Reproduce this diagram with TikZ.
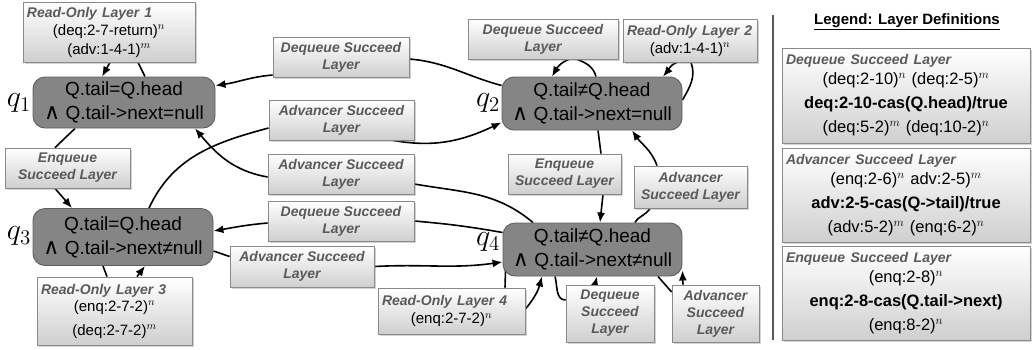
\documentclass[tikz,border=0pt]{standalone}
\usepackage{fontspec}
\setmainfont{Liberation Sans}
\newfontfamily\djv{DejaVu Sans}
\usetikzlibrary{shadows,backgrounds,arrows.meta}
\definecolor{ttl}{HTML}{5A5A5A}
\definecolor{stfill}{HTML}{858585}
\definecolor{stdraw}{HTML}{5E5E5E}
\definecolor{bxdraw}{HTML}{8A8A8A}
\definecolor{bxbot}{HTML}{CFCFCF}
\newcommand\lttl[1]{\makebox[\hsize][l]{\fontsize{14}{17}\selectfont\bfseries\itshape\color{ttl}#1}}
\newcommand\wedgeg{{\djv\fontsize{22}{24}\selectfont ∧}}
\tikzset{
  state/.style={draw=stdraw, fill=stfill, line width=0.9pt, rounded corners=12pt,
    align=center, inner sep=0pt, font=\fontsize{19}{24}\selectfont},
  layer/.style={draw=bxdraw, line width=0.8pt, top color=white, bottom color=bxbot,
    drop shadow={shadow xshift=1.5pt, shadow yshift=-1.5pt, opacity=0.35},
    inner sep=0pt, align=center},
  lname/.style={layer, font=\fontsize{14}{17}\selectfont\bfseries\itshape, text=ttl},
  rolayer/.style={layer, inner xsep=4pt, font=\fontsize{15}{19}\selectfont},
  legbox/.style={layer, inner xsep=4pt, text width=240pt, minimum height=94pt,
    font=\fontsize{16.5}{24}\selectfont},
  edge/.style={line width=1.6pt, black},
  arr/.style={edge, -{Latex[length=10pt,width=8pt]}},
  qlab/.style={font=\fontsize{20.74}{21}\selectfont, inner sep=0pt, scale=1.45},
}
\begin{document}
\begin{tikzpicture}[x=1pt,y=1pt]
\useasboundingbox (0,0) rectangle (1036,-349);

% states
\node[state, minimum width=182pt, minimum height=51pt] (q1) at (124,-102.5) {Q.tail=Q.head\\\wedgeg{} Q.tail->next=null};
\node[state, minimum width=180pt, minimum height=53pt] (q2) at (592,-103.5) {Q.tail≠Q.head\\\wedgeg{} Q.tail->next=null};
\node[state, minimum width=180pt, minimum height=57pt] (q3) at (123,-237) {Q.tail=Q.head\\\wedgeg{} Q.tail->next≠null};
\node[state, minimum width=179pt, minimum height=53pt] (q4) at (592.5,-249.5) {Q.tail≠Q.head\\\wedgeg{} Q.tail->next≠null};

\node[qlab] (l1) at (19,-103) {$q_1$};
\node[qlab] (l2) at (488,-103) {$q_2$};
\node[qlab] (l3) at (19,-236) {$q_3$};
\node[qlab] (l4) at (488,-242) {$q_4$};

% layer name boxes
\node[lname, minimum width=136pt, minimum height=40pt] (dsA) at (341,-57) {Dequeue Succeed\\Layer};
\node[lname, minimum width=145pt, minimum height=40pt] (asA) at (341.5,-120) {Advancer Succeed\\Layer};
\node[lname, minimum width=146pt, minimum height=40pt] (asB) at (341,-174) {Advancer Succeed\\Layer};
\node[lname, minimum width=146pt, minimum height=40pt] (dsB) at (341,-221) {Dequeue Succeed\\Layer};
\node[lname, minimum width=144pt, minimum height=41pt] (asC) at (302,-266.5) {Advancer Succeed\\Layer};
\node[lname, minimum width=125pt, minimum height=40pt] (esA) at (67.5,-168) {Enqueue\\Succeed Layer};
\node[lname, minimum width=150pt, minimum height=40pt] (dsC) at (543,-39) {Dequeue Succeed\\Layer};
\node[lname, minimum width=113pt, minimum height=40pt] (esB) at (564.5,-174) {Enqueue\\Succeed Layer};
\node[lname, minimum width=113pt, minimum height=42pt] (asD) at (690.5,-187) {Advancer\\Succeed Layer};
\node[lname, minimum width=88pt, minimum height=57pt] (dsD) at (610,-313.5) {Dequeue\\Succeed\\Layer};
\node[lname, minimum width=87pt, minimum height=57pt] (asE) at (715.5,-313.5) {Advancer\\Succeed\\Layer};

% read-only boxes
\node[rolayer, text width=164pt, minimum height=60pt] (ro1) at (109,-32)
  {\lttl{Read-Only Layer 1}\\[-1pt](deq:2-7-return)$^{n}$\\(adv:1-4-1)$^{m}$};
\node[rolayer, text width=126pt, minimum height=43pt] (ro2) at (690,-40.5)
  {\lttl{Read-Only Layer 2}\\[-1pt](adv:1-4-1)$^{n}$};
\node[rolayer, text width=147pt, minimum height=68pt] (ro3) at (114.5,-311)
  {\lttl{Read-Only Layer 3}\\[-2pt](enq:2-7-2)$^{n}$\\[5pt](deq:2-7-2)$^{m}$};
\node[rolayer, text width=139pt, minimum height=46pt] (ro4) at (451.5,-311)
  {\lttl{Read-Only Layer 4}\\[-1pt](enq:2-7-2)$^{n}$};

% legend
\coordinate (lgtop) at (773,-15);
\coordinate (lgbot) at (773,-340);
\draw[line width=1.3pt, black!65] (lgtop) -- (lgbot);
\node[font=\fontsize{15}{18}\selectfont\bfseries, inner sep=0pt] (lt) at (907,-22) {\underline{Legend: Layer Definitions}};
\node[legbox, minimum height=95pt] (lb1) at (906,-95.5)
  {\lttl{Dequeue Succeed Layer}\\[-4pt](deq:2-10)$^{n}$ (deq:2-5)$^{m}$\\\textbf{deq:2-10-cas(Q.head)/true}\\(deq:5-2)$^{m}$ (deq:10-2)$^{n}$};
\node[legbox] (lb2) at (906,-195)
  {\lttl{Advancer Succeed Layer}\\[-4pt](enq:2-6)$^{n}$ adv:2-5)$^{m}$\\\textbf{adv:2-5-cas(Q->tail)/true}\\(adv:5-2)$^{m}$ (enq:6-2)$^{n}$};
\node[legbox] (lb3) at (906,-293)
  {\lttl{Enqueue Succeed Layer}\\[-4pt](enq:2-8)$^{n}$\\\textbf{enq:2-8-cas(Q.tail->next)}\\(enq:8-2)$^{n}$};

% connectors
\begin{scope}[on background layer]
\draw[edge] ([xshift=21pt]q1.north) -- ([xshift=29pt]ro1.south);
\draw[arr] ([xshift=1pt]ro1.south) -- ([xshift=-22pt]q1.north);
\draw[edge] ([xshift=-49pt]q1.south) -- ([xshift=-12.5pt]esA.north);
\draw[arr] ([xshift=-12.5pt]esA.south) -- ([xshift=-51pt]q3.north);
\draw[edge] ([xshift=-20pt]q3.south) -- ([xshift=-7.5pt]ro3.north);
\draw[arr] ([xshift=22.5pt]ro3.north) -- ([xshift=22pt]q3.south);
\draw[edge] ([yshift=18pt]q2.west) to[out=165,in=-5] ([yshift=-2pt]dsA.east);
\draw[arr] ([yshift=-18pt]dsA.west) to[out=185,in=8] ([yshift=17pt]q1.east);
\draw[edge] ([xshift=26pt]q3.north) to[out=65,in=195] ([yshift=-8pt]asA.west);
\draw[arr] ([xshift=51.5pt]asA.south) to[out=-10,in=205] ([yshift=-19pt]q2.west);
\draw[edge] ([xshift=-59.5pt]q4.north) to[out=140,in=-10] ([yshift=-10pt]asB.east);
\draw[arr] ([yshift=-3pt]asB.west) to[out=170,in=-50] ([xshift=71pt]q1.south);
\draw[edge] ([yshift=17pt]q4.west) to[out=170,in=-5] (dsB.east);
\draw[arr] ([yshift=-2pt]dsB.west) to[out=185,in=10] ([yshift=6pt]q3.east);
\draw[edge] ([yshift=-14pt]q3.east) -- ([yshift=10pt]asC.west);
\draw[arr] (asC.east) to[out=3,in=188] ([yshift=-12.5pt]q4.west);
\draw[edge] ([xshift=3pt,yshift=7pt]q4.south west) -- ([xshift=53.5pt]ro4.north);
\draw[arr] ([yshift=2pt]ro4.east) to[out=50,in=-105] ([xshift=-50.5pt]q4.south);
\draw[edge] ([xshift=-37.5pt]q4.south) to[out=-75,in=180] ([yshift=13.5pt]dsD.west);
\draw[arr] ([xshift=-15pt]dsD.north) -- ([xshift=4.5pt]q4.south);
\draw[edge] ([xshift=65.5pt]q4.south) -- ([yshift=21.5pt]asE.west);
\draw[arr] ([xshift=-32.5pt]asE.north) -- ([yshift=6pt]q4.south east);
\draw[edge] ([xshift=6pt]q2.south) -- ([xshift=36.5pt]esB.north);
\draw[arr] ([xshift=38.5pt]esB.south) -- ([xshift=7.5pt]q4.north);
\draw[edge] ([xshift=42.5pt]q4.north) to[out=60,in=-120] ([xshift=-40.5pt]asD.south);
\draw[arr] ([xshift=-33.5pt]asD.north) to[out=110,in=-55] ([xshift=40pt]q2.south);
\draw[edge] ([xshift=4pt]q2.north) to[out=105,in=-20] ([xshift=34pt]dsC.south);
\draw[arr] ([xshift=26pt]dsC.south) to[out=200,in=60] ([xshift=-40pt]q2.north);
\draw[edge] ([yshift=3.5pt]q2.east) to[out=60,in=-70] ([xshift=1pt]ro2.south);
\draw[arr] ([xshift=-13pt]ro2.south) to[out=200,in=50] ([xshift=71pt]q2.north);
\end{scope}
\end{tikzpicture}
\end{document}
